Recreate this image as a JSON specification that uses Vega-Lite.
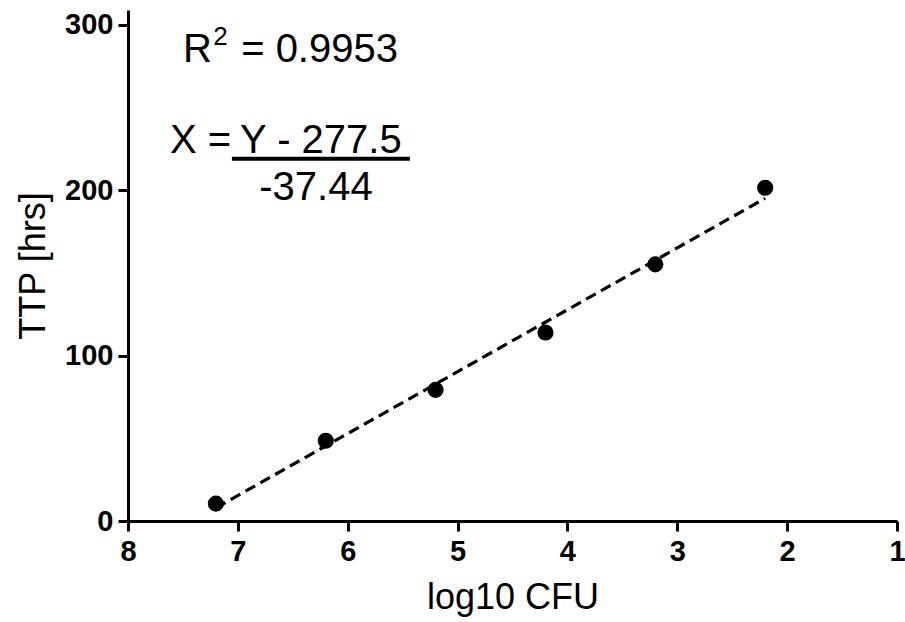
{
  "$schema": "https://vega.github.io/schema/vega-lite/v6.json",
  "width": 769,
  "height": 511,
  "autosize": {"type": "none"},
  "padding": {"left": 128, "top": 10, "right": 8, "bottom": 101},
  "background": "white",
  "config": {
    "view": {"stroke": null},
    "font": "Liberation Sans",
    "axis": {
      "domainColor": "black",
      "domainWidth": 3,
      "tickColor": "black",
      "tickWidth": 3,
      "tickSize": 10,
      "grid": false,
      "labelFlush": false,
      "labelFont": "Liberation Sans",
      "labelFontWeight": "bold",
      "labelFontSize": 29,
      "labelColor": "black",
      "titleFont": "Liberation Sans",
      "titleFontWeight": "normal",
      "titleFontSize": 36,
      "titleColor": "black"
    }
  },
  "datasets": {
    "points": [
      {"logCFU": 7.2, "ttp": 10.5},
      {"logCFU": 6.2, "ttp": 48.5},
      {"logCFU": 5.2, "ttp": 79.3},
      {"logCFU": 4.2, "ttp": 114.0},
      {"logCFU": 3.2, "ttp": 155.2},
      {"logCFU": 2.2, "ttp": 201.5}
    ],
    "fit": [
      {"logCFU": 7.2, "ttp": 7.93},
      {"logCFU": 2.2, "ttp": 195.13}
    ],
    "notesLeft": [
      {"x": 7.5, "y": 277.7, "label": "R"},
      {"x": 6.97, "y": 277.7, "label": "= 0.9953"},
      {"x": 7.618, "y": 222.6, "label": "X ="}
    ],
    "superscript": [
      {"x": 7.225, "y": 288.0, "label": "2"}
    ],
    "notesCenter": [
      {"x": 6.244, "y": 222.6, "label": "Y - 277.5"},
      {"x": 6.289, "y": 194.2, "label": "-37.44"}
    ],
    "bar": [
      {"x": 7.054, "x2": 5.434, "y": 219.0}
    ]
  },
  "encoding": {
    "x": {
      "field": "logCFU",
      "type": "quantitative",
      "scale": {"domain": [1, 8], "reverse": true, "nice": false, "zero": false},
      "axis": {"title": "log10 CFU", "values": [1, 2, 3, 4, 5, 6, 7, 8], "labelPadding": 6, "titlePadding": 14}
    },
    "y": {
      "field": "ttp",
      "type": "quantitative",
      "scale": {"domain": [0, 309], "nice": false},
      "axis": {"title": "TTP [hrs]", "values": [0, 100, 200, 300], "labelPadding": 5, "titlePadding": 12}
    }
  },
  "layer": [
    {
      "data": {"name": "fit"},
      "mark": {"type": "line", "color": "black", "strokeWidth": 3.2, "strokeDash": [11, 6]}
    },
    {
      "data": {"name": "points"},
      "mark": {"type": "point", "filled": true, "shape": "circle", "size": 260, "color": "black", "opacity": 1}
    },
    {
      "data": {"name": "notesLeft"},
      "mark": {"type": "text", "fontSize": 40, "color": "black", "baseline": "alphabetic", "align": "left", "font": "Liberation Sans"},
      "encoding": {
        "x": {"field": "x", "type": "quantitative"},
        "y": {"field": "y", "type": "quantitative"},
        "text": {"field": "label"}
      }
    },
    {
      "data": {"name": "superscript"},
      "mark": {"type": "text", "fontSize": 26, "color": "black", "baseline": "alphabetic", "align": "left", "font": "Liberation Sans"},
      "encoding": {
        "x": {"field": "x", "type": "quantitative"},
        "y": {"field": "y", "type": "quantitative"},
        "text": {"field": "label"}
      }
    },
    {
      "data": {"name": "notesCenter"},
      "mark": {"type": "text", "fontSize": 40, "color": "black", "baseline": "alphabetic", "align": "center", "font": "Liberation Sans"},
      "encoding": {
        "x": {"field": "x", "type": "quantitative"},
        "y": {"field": "y", "type": "quantitative"},
        "text": {"field": "label"}
      }
    },
    {
      "data": {"name": "bar"},
      "mark": {"type": "rule", "color": "black", "strokeWidth": 4},
      "encoding": {
        "x": {"field": "x", "type": "quantitative"},
        "x2": {"field": "x2"},
        "y": {"field": "y", "type": "quantitative"}
      }
    }
  ]
}
